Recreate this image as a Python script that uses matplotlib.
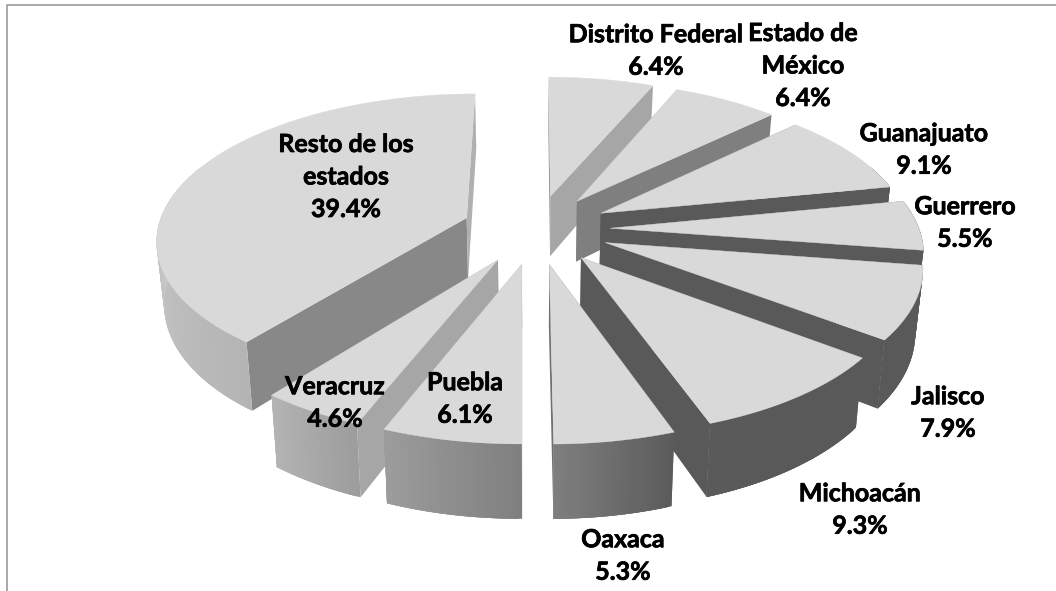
import numpy as np
import matplotlib
matplotlib.use('Agg')
import matplotlib.pyplot as plt
import matplotlib.patheffects as pe
from matplotlib.patches import Polygon

# Datos del grafico
estados = ['Distrito Federal', 'Estado de\nMéxico', 'Guanajuato', 'Guerrero', 'Jalisco',
           'Michoacán', 'Oaxaca', 'Puebla', 'Veracruz', 'Resto de los\nestados']
porcentajes = [6.4, 6.4, 9.1, 5.5, 7.9, 9.3, 5.3, 6.1, 4.6, 39.4]

# Posicion de cada etiqueta en pixeles
label_x = [656, 803, 924, 965, 948, 860, 623, 465, 335, 346]
label_y = [51, 66, 150, 223, 413, 510, 556, 399, 403, 177]

# Gris de las caras de corte de cada rebanada (inicio, fin)
cut_start = ['#8a8a8a', '#7f7f7f', '#595959', '#595959', '#595959', '#595959', '#595959', '#8f8f8f', '#a6a6a6', '#888888']
cut_end = ['#a6a6a6', '#7f7f7f', '#595959', '#595959', '#595959', '#595959', '#707070', '#8f8f8f', '#a6a6a6', '#b0b0b0']

# Camara: centro, escalas, perspectiva y alto del pastel
cx, cy = 536, 229
A, B = 309, 144
k = 0.139
H = 62
explode = 0.24
shrink = 0.98


def project(x, y):
    w = 1 + k * y
    return cx + A * x / w, cy - B * y / w, H / w


def top_point(x, y):
    sx, sy, h = project(x, y)
    return sx, sy


def bottom_point(x, y):
    sx, sy, h = project(x, y)
    return cx + (sx - cx) * shrink, sy + h


def wall_shade(a):
    g = np.interp(a, [0, 150, 160, 180, 201, 218, 270, 360],
                  [0x59, 0x59, 0x5a, 0x80, 0x9c, 0xb4, 0xc8, 0xc8])
    return (g / 255, g / 255, g / 255)


fig = plt.figure(figsize=(10.56, 5.91), dpi=100)
ax = fig.add_axes([0, 0, 1, 1])
ax.set_xlim(0, 1056)
ax.set_ylim(591, 0)
ax.axis('off')

# Borde del area del grafico
ax.plot([6.5, 6.5, 1056], [591, 4.5, 4.5], color='#999999', lw=1.2, zorder=1)

fin = np.cumsum(porcentajes) * 3.6
inicio = fin - np.array(porcentajes) * 3.6
medio = (inicio + fin) / 2

# Se pinta de atras hacia adelante
orden = np.argsort(-np.cos(np.radians(medio)))
z = 2
for i in orden:
    m = np.radians(medio[i])
    ox, oy = explode * np.sin(m), explode * np.cos(m)
    angs = np.arange(inicio[i], fin[i] + 0.5, 0.5)
    angs[-1] = fin[i]
    rad = np.radians(angs)
    xs = ox + np.sin(rad)
    ys = oy + np.cos(rad)

    # caras de corte
    for j, shade in ((0, cut_start[i]), (-1, cut_end[i])):
        pts = [top_point(ox, oy), top_point(xs[j], ys[j]),
               bottom_point(xs[j], ys[j]), bottom_point(ox, oy)]
        ax.add_patch(Polygon(pts, closed=True, fc=shade, ec='none', zorder=z))
        z += 1

    # pared exterior por tiras solapadas, para el degradado sin costuras
    for j in range(len(angs) - 1):
        if np.cos(rad[j]) > 0.35:
            continue
        e = min(j + 3, len(angs) - 1)
        col = wall_shade(angs[j])
        pts = [top_point(a, b) for a, b in zip(xs[j:e + 1], ys[j:e + 1])]
        pts += [bottom_point(a, b) for a, b in zip(xs[j:e + 1][::-1], ys[j:e + 1][::-1])]
        ax.add_patch(Polygon(pts, closed=True, fc=col, ec='none', zorder=z))
        z += 1

    # cara superior
    top = [top_point(ox, oy)] + [top_point(a, b) for a, b in zip(xs, ys)]
    ax.add_patch(Polygon(top, closed=True, fc='#d9d9d9', ec='#d9d9d9', lw=0.3, zorder=z))
    z += 1

for nombre, p, lx, ly in zip(estados, porcentajes, label_x, label_y):
    ax.text(lx, ly, f'{nombre}\n{p}%', ha='center', va='center', family='Lato',
            fontweight='bold', fontsize=18, linespacing=1.5, color='black', zorder=z + 1,
            path_effects=[pe.withStroke(linewidth=0.5, foreground='black')])

fig.savefig('out.png', dpi=100)
